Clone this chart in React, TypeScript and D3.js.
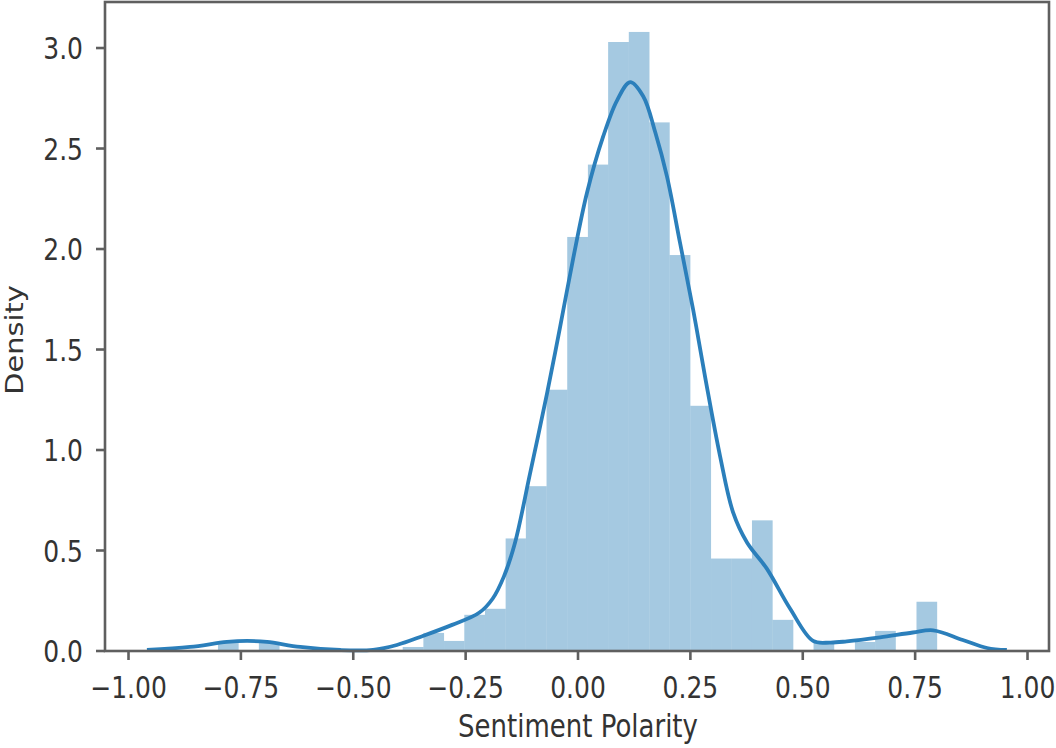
import React from "react";
import * as d3 from "d3";

// Histogram bin edges (Sentiment Polarity) and densities
const binEdges = [
  -0.938, -0.892, -0.847, -0.801, -0.755, -0.710, -0.664, -0.618, -0.573, -0.527,
  -0.481, -0.435, -0.390, -0.344, -0.298, -0.253, -0.207, -0.161, -0.116, -0.070,
  -0.024, 0.022, 0.067, 0.113, 0.159, 0.204, 0.250, 0.296, 0.342, 0.387,
  0.433, 0.479, 0.524, 0.570, 0.616, 0.661, 0.707, 0.753, 0.799, 0.844,
  0.890, 0.936,
];
const binDensity = [
  0, 0, 0, 0.045, 0, 0.045, 0, 0, 0, 0,
  0, 0, 0.02, 0.09, 0.05, 0.18, 0.21, 0.56, 0.82, 1.3,
  2.06, 2.42, 3.03, 3.08, 2.63, 1.97, 1.22, 0.46, 0.46, 0.65,
  0.155, 0, 0.045, 0, 0.045, 0.1, 0, 0.245, 0, 0,
  0,
];

// KDE curve samples
const kdeX = [
  -0.959, -0.863, -0.781, -0.736, -0.692, -0.618, -0.529, -0.456, -0.403, -0.345,
  -0.28, -0.22, -0.19, -0.165, -0.14, -0.107, -0.069, -0.04, -0.011, 0.02,
  0.056, 0.087, 0.116, 0.145, 0.172, 0.198, 0.227, 0.256, 0.283, 0.316,
  0.345, 0.376, 0.42, 0.472, 0.523, 0.561, 0.598, 0.672, 0.745, 0.79,
  0.856, 0.91, 0.954,
];
const kdeY = [
  0.005, 0.02, 0.045, 0.05, 0.045, 0.02, 0.005, 0.006, 0.03, 0.075,
  0.13, 0.19, 0.26, 0.37, 0.54, 0.88, 1.28, 1.61, 1.95, 2.28,
  2.56, 2.74, 2.83, 2.76, 2.58, 2.36, 2.03, 1.7, 1.36, 0.97,
  0.69, 0.54, 0.41, 0.21, 0.05, 0.042, 0.048, 0.068, 0.092, 0.103,
  0.055, 0.015, 0.005,
];

const xTicks = [-1, -0.75, -0.5, -0.25, 0, 0.25, 0.5, 0.75, 1];
const yTicks = [0, 0.5, 1, 1.5, 2, 2.5, 3];

const xLabel = "Sentiment Polarity";
const yLabel = "Density";

const W = 1056;
const H = 748;
const left = 105;
const right = 1049;
const top = 2;
const bottom = 651;

export default function App() {
  const x = d3.scaleLinear().domain([-1.0523, 1.0478]).range([left, right]);
  const y = d3.scaleLinear().domain([0, 3.229]).range([bottom, top]);
  const fx = d3.format(".2f");
  const fy = d3.format(".1f");
  const font = "DejaVu Sans, sans-serif";
  const textColor = "#333";
  const spine = "#5f5f5f";

  const line = d3
    .line<number>()
    .x((_, i) => x(kdeX[i]))
    .y((d) => y(d))
    .curve(d3.curveCatmullRom.alpha(0.5));

  return (
    <svg
      width={W}
      height={H}
      style={{ position: "absolute", left: 0, top: 0, background: "#fff" }}
    >
      <rect x={0} y={0} width={W} height={H} fill="#fff" />
      <g>
        {binDensity.map((d, i) =>
          d > 0 ? (
            <rect
              key={i}
              x={x(binEdges[i])}
              y={y(d)}
              width={x(binEdges[i + 1]) - x(binEdges[i])}
              height={y(0) - y(d)}
              fill="#1f77b4"
              fillOpacity={0.4}
            />
          ) : null
        )}
      </g>
      <path d={line(kdeY) || ""} fill="none" stroke="#2b7fbb" strokeWidth={3.8} />
      {/* spines */}
      <rect
        x={left}
        y={top}
        width={right - left}
        height={bottom - top}
        fill="none"
        stroke={spine}
        strokeWidth={2.6}
      />
      {/* x ticks */}
      {xTicks.map((t) => (
        <g key={"x" + t}>
          <line x1={x(t)} x2={x(t)} y1={bottom} y2={bottom + 9} stroke={spine} strokeWidth={2.6} />
          <text
            transform={`translate(${x(t)},${698}) scale(1,1.2)`}
            textAnchor="middle"
            fontFamily={font}
            fontSize={25}
            fill={textColor}
          >
            {fx(t)}
          </text>
        </g>
      ))}
      {/* y ticks */}
      {yTicks.map((t) => (
        <g key={"y" + t}>
          <line x1={left - 9} x2={left} y1={y(t)} y2={y(t)} stroke={spine} strokeWidth={2.6} />
          <text
            transform={`translate(${83},${y(t) + 11}) scale(1,1.2)`}
            textAnchor="end"
            fontFamily={font}
            fontSize={25}
            fill={textColor}
          >
            {fy(t)}
          </text>
        </g>
      ))}
      <text
        transform={`translate(${578},${737}) scale(1,1.2)`}
        textAnchor="middle"
        fontFamily={font}
        fontSize={26}
        fill={textColor}
      >
        {xLabel}
      </text>
      <text
        transform={`translate(${23},${340}) scale(1,1.2) rotate(-90)`}
        textAnchor="middle"
        fontFamily={font}
        fontSize={24}
        fill={textColor}
      >
        {yLabel}
      </text>
    </svg>
  );
}
